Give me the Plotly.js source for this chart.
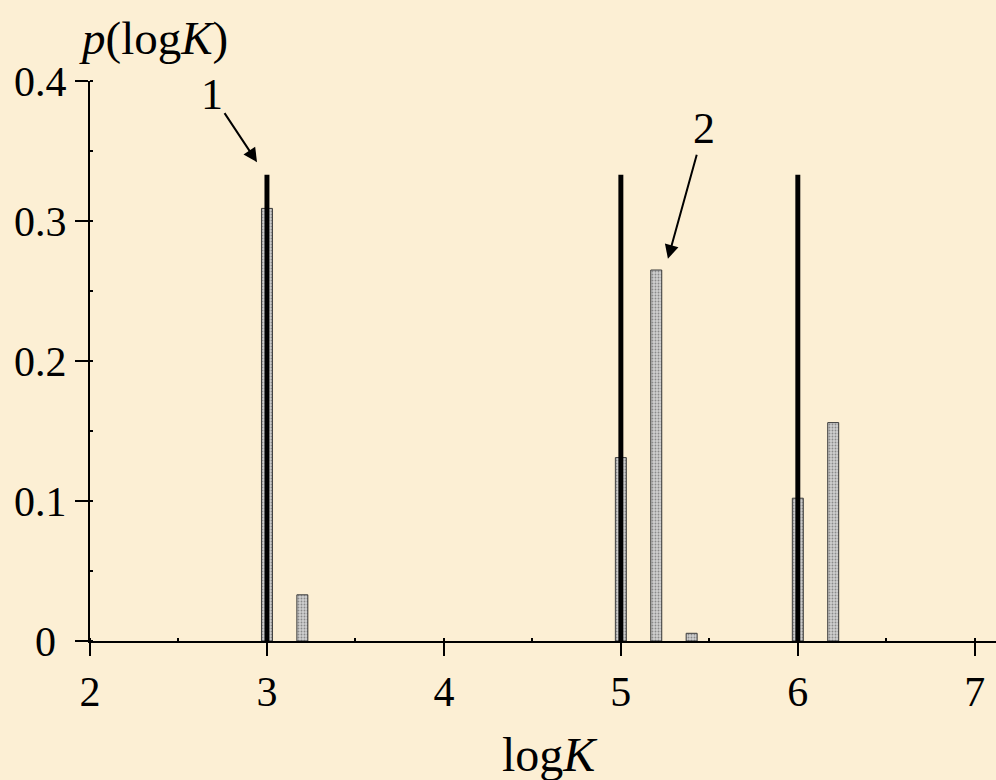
<!DOCTYPE html>
<html>
<head>
<meta charset="utf-8">
<script src="https://cdn.plot.ly/plotly-3.0.1.min.js"></script>
<style>
  html, body { margin: 0; padding: 0; background: #fcefd4; }
  #chart { width: 996px; height: 780px; }
</style>
</head>
<body>
<div id="chart"></div>
<script>
// Distribution bars (curve 2)
const barLogK = [3.0, 3.2, 5.0, 5.2, 5.4, 6.0, 6.2];
const barP    = [0.309, 0.033, 0.131, 0.265, 0.0055, 0.102, 0.156];
// Exact spectrum lines (curve 1)
const lineLogK = [3, 5, 6];
const lineP    = [0.333, 0.333, 0.333];
// Axis ticks
const xTicks = [2, 3, 4, 5, 6, 7];
const yTicks = [0, 0.1, 0.2, 0.3, 0.4];
const yTickText = ['0&nbsp;', '0.1', '0.2', '0.3', '0.4'];

const FONT = 'Liberation Serif, Times New Roman, serif';

const traces = [
  {
    type: 'bar',
    x: barLogK,
    y: barP,
    width: 0.062,
    marker: {
      color: '#c2c2c2',
      line: { color: '#3a3a3a', width: 1 },
      pattern: { shape: '.', fgcolor: '#8a8a8a', bgcolor: '#cfcfcf', size: 3, solidity: 0.3 }
    },
    hoverinfo: 'x+y',
    showlegend: false
  },
  {
    type: 'bar',
    x: lineLogK,
    y: lineP,
    width: 0.028,
    marker: { color: '#000000', line: { width: 0 } },
    hoverinfo: 'x+y',
    showlegend: false
  }
];

const layout = {
  width: 996,
  height: 780,
  margin: { l: 90, r: 0, t: 81, b: 139 },
  paper_bgcolor: 'rgba(0,0,0,0)',
  plot_bgcolor: 'rgba(0,0,0,0)',
  barmode: 'overlay',
  showlegend: false,
  font: { family: FONT, color: '#000', size: 42 },
  xaxis: {
    range: [2, 7.12],
    tickvals: xTicks,
    ticks: 'outside',
    ticklen: 13,
    tickwidth: 2,
    tickcolor: '#000',
    showline: true,
    linecolor: '#000',
    linewidth: 2,
    showgrid: false,
    zeroline: false,
    tickfont: { family: FONT, size: 42, color: '#000' },
    minor: { dtick: 0.5, tick0: 2, ticks: 'inside', ticklen: 3, tickwidth: 2, tickcolor: '#000', showgrid: false },
    fixedrange: true
  },
  yaxis: {
    range: [0, 0.4],
    tickvals: yTicks,
    ticktext: yTickText,
    ticks: 'outside',
    ticklen: 13,
    tickwidth: 2,
    tickcolor: '#000',
    showline: true,
    linecolor: '#000',
    linewidth: 2,
    showgrid: false,
    zeroline: false,
    tickfont: { family: FONT, size: 42, color: '#000' },
    minor: { dtick: 0.05, tick0: 0, ticks: 'inside', ticklen: 3, tickwidth: 2, tickcolor: '#000', showgrid: false },
    fixedrange: true
  },
  annotations: [
    {
      xref: 'paper', yref: 'paper',
      x: 0.508, y: -0.151,
      xanchor: 'center', yanchor: 'top',
      text: 'log<i>K</i>',
      showarrow: false,
      font: { family: FONT, size: 48, color: '#000' }
    },
    {
      xref: 'paper', yref: 'paper',
      x: -0.014, y: 1.077,
      xanchor: 'left', yanchor: 'middle',
      text: '<i>p</i>(log<i>K</i>)',
      showarrow: false,
      font: { family: FONT, size: 47, color: '#000' }
    },
    {
      xref: 'x', yref: 'y',
      x: 2.944, y: 0.342,
      text: '1',
      showarrow: true,
      ax: -45, ay: -68,
      arrowhead: 2, arrowsize: 1.4, arrowwidth: 2, arrowcolor: '#000',
      standoff: 0, startstandoff: 0,
      font: { family: FONT, size: 44, color: '#000' }
    },
    {
      xref: 'x', yref: 'y',
      x: 5.266, y: 0.273,
      text: '2',
      showarrow: true,
      ax: 36, ay: -130,
      arrowhead: 2, arrowsize: 1.4, arrowwidth: 2, arrowcolor: '#000',
      standoff: 0, startstandoff: 0,
      font: { family: FONT, size: 44, color: '#000' }
    }
  ]
};

Plotly.newPlot('chart', traces, layout, { displayModeBar: false, staticPlot: true });
</script>
</body>
</html>
